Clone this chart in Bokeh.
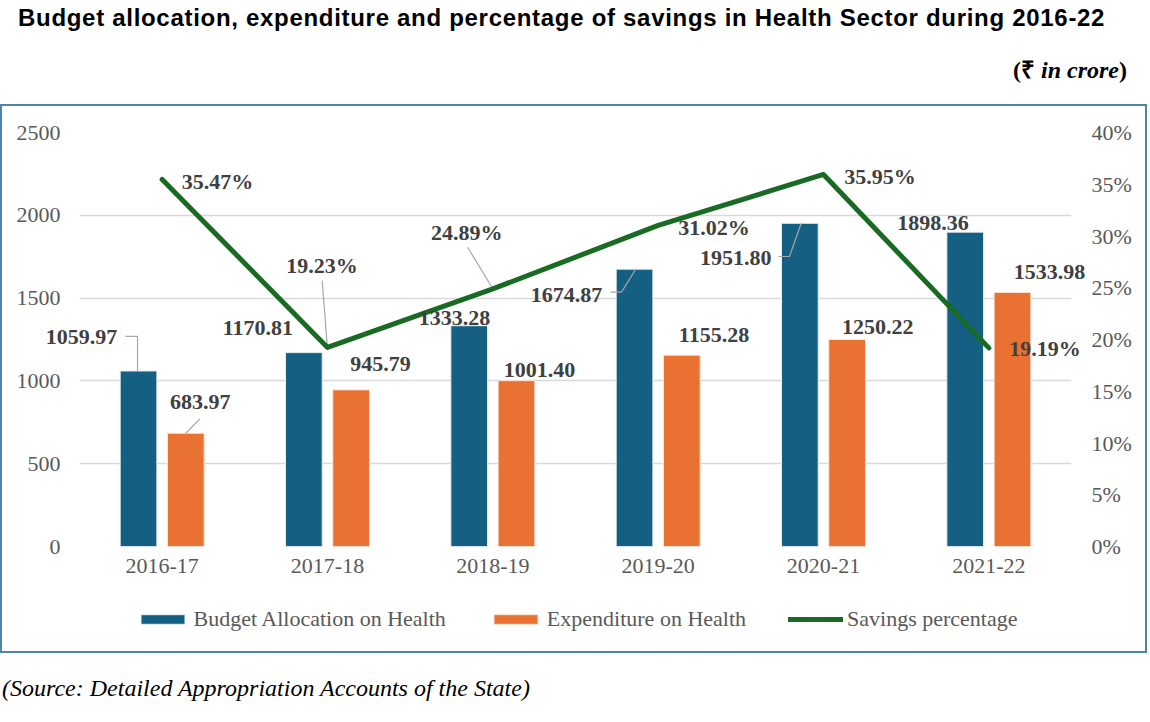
import numpy as np
from bokeh.plotting import figure
from bokeh.layouts import column
from bokeh.models import (ColumnDataSource, FactorRange, Range1d, LinearAxis, FixedTicker,
                          PrintfTickFormatter, Legend, LegendItem, Div)
from bokeh.transform import dodge
from bokeh.core.properties import value
from bokeh.embed import file_html
from bokeh.resources import INLINE

# ---------------- data ----------------
years = ["2016-17", "2017-18", "2018-19", "2019-20", "2020-21", "2021-22"]
budget = [1059.97, 1170.81, 1333.28, 1674.87, 1951.80, 1898.36]
expenditure = [683.97, 945.79, 1001.40, 1155.28, 1250.22, 1533.98]
savings_pct = [35.47, 19.23, 24.89, 31.02, 35.95, 19.19]
left_ticks = [0, 500, 1000, 1500, 2000, 2500]
right_ticks = [0, 5, 10, 15, 20, 25, 30, 35, 40]
series_names = ["Budget Allocation on Health", "Expenditure on Health", "Savings percentage"]
title_text = "Budget allocation, expenditure and percentage of savings in Health Sector during 2016-22"
source_text = "(Source: Detailed Appropriation Accounts of the State)"

# ---------------- layout (label offsets in screen px, +y = down) ----------------
budget_dx = [-57, -46, -14.7, -67.9, -64.1, -32.1]
budget_dy = [-33.8, -25, -7.5, 25.4, 34.7, -8.8]
exp_dx = [14.4, 29.4, 23.1, 32.2, 30.6, 37]
exp_dy = [-31.4, -25.4, -10.2, -19.7, -12.3, -20.3]
pct_dx = [55.3, -5.5, -26.1, 55.8, 56.5, 56.2]
pct_dy = [2.1, -82, -56.7, 1.7, 1.6, 0.9]

BLUE = "#156082"
ORANGE = "#E97132"
GREEN = "#196B24"
SERIF = "Liberation Serif"
GRID = "#D9D9D9"
BORDER = "#4E84A8"
BW = "2px solid " + BORDER

W = 1147
H_MAIN = 490
FL, FR, FT, FB = 77, 78, 26, 50
FW = W - FL - FR
FH = H_MAIN - FT - FB
BAR_W = 0.222
DODGE = 0.143

p = figure(x_range=FactorRange(*years), y_range=Range1d(0, 2500),
           width=W, height=H_MAIN, output_backend="svg", toolbar_location=None,
           min_border_left=FL, min_border_right=FR, min_border_top=FT, min_border_bottom=FB,
           styles={"border-top": BW, "border-left": BW, "border-right": BW})
p.title.text = ""
p.outline_line_color = None
p.background_fill_color = "white"
p.border_fill_color = "white"
p.extra_y_ranges = {"pct": Range1d(0, 40)}

p.xgrid.grid_line_color = None
p.ygrid.grid_line_color = GRID
p.ygrid.grid_line_width = 1.5
p.yaxis.ticker = FixedTicker(ticks=left_ticks)

def style_axis(ax, standoff):
    ax.axis_line_color = None
    ax.major_tick_line_color = None
    ax.minor_tick_line_color = None
    ax.major_tick_out = 0
    ax.major_tick_in = 0
    ax.major_label_text_font = SERIF
    ax.major_label_text_font_size = "22px"
    ax.major_label_text_color = "#595959"
    ax.major_label_standoff = standoff

style_axis(p.yaxis[0], 19)
style_axis(p.xaxis[0], 12)
rax = LinearAxis(y_range_name="pct", ticker=FixedTicker(ticks=right_ticks),
                 formatter=PrintfTickFormatter(format="%d%%"))
style_axis(rax, 20)
p.add_layout(rax, "right")

src = ColumnDataSource(dict(
    year=years, budget=budget, expenditure=expenditure, pct=savings_pct,
    budget_txt=["%.2f" % v for v in budget],
    exp_txt=["%.2f" % v for v in expenditure],
    pct_txt=["%.2f%%" % v for v in savings_pct],
    bdx=budget_dx, bdy=budget_dy, edx=exp_dx, edy=exp_dy, pdx=pct_dx, pdy=pct_dy,
))

bar_blue = dict(fill_color=BLUE, line_color="#E6EEF3", line_width=1)
bar_orange = dict(fill_color=ORANGE, line_color="#FBE3D6", line_width=1)
line_style = dict(line_color=GREEN, line_width=5, line_join="round", line_cap="round")

p.vbar(x=dodge("year", -DODGE, range=p.x_range), top="budget", width=BAR_W,
       source=src, **bar_blue)
p.vbar(x=dodge("year", DODGE, range=p.x_range), top="expenditure", width=BAR_W,
       source=src, **bar_orange)

# leader lines (offsets in px converted to data units)
XU = len(years) / FW
YU = 2500 / FH
PU = 40 / FH

def bar_leader(i, off, pts, vals):
    cx = i + 0.5 + off
    return [cx + dx * XU for dx, dy in pts], [vals[i] - dy * YU for dx, dy in pts]

def pct_leader(i, pts):
    cx = i + 0.5
    return [cx + dx * XU for dx, dy in pts], [savings_pct[i] - dy * PU for dx, dy in pts]

lead = [bar_leader(0, -DODGE, [(-13, -34.5), (-1, -34.5), (-1, 0)], budget),
        bar_leader(0, DODGE, [(0, 0), (14, -14.4)], expenditure),
        bar_leader(3, -DODGE, [(-24, 23), (-13, 23), (1, 0.4)], budget),
        bar_leader(4, -DODGE, [(-21.4, 33.2), (-10.4, 33.2), (1.3, 0.2)], budget)]
r1 = p.multi_line(xs=[a for a, b in lead], ys=[b for a, b in lead],
                  line_color="#A6A6A6", line_width=1.2)
r1.level = "overlay"
plead = [pct_leader(1, [(-5.3, -67), (-0.3, -2)]),
         pct_leader(2, [(-25.3, -41.7), (-0.3, -0.7)])]
p.multi_line(xs=[a for a, b in plead], ys=[b for a, b in plead],
             line_color="#A6A6A6", line_width=1.2, y_range_name="pct")

lbl = dict(text_font=value(SERIF), text_font_size="22px", text_font_style="bold",
           text_color="#404040", text_align="center", text_baseline="middle")
t1 = p.text(x=dodge("year", -DODGE, range=p.x_range), y="budget", text="budget_txt",
            x_offset="bdx", y_offset="bdy", source=src, **lbl)
t2 = p.text(x=dodge("year", DODGE, range=p.x_range), y="expenditure", text="exp_txt",
            x_offset="edx", y_offset="edy", source=src, **lbl)
p.line(x="year", y="pct", source=src, y_range_name="pct", **line_style)
t3 = p.text(x="year", y="pct", text="pct_txt", x_offset="pdx", y_offset="pdy",
            source=src, y_range_name="pct", **lbl)
for r in (t1, t2, t3):
    r.level = "overlay"

# ---------------- legend strip (inside the same bordered box) ----------------
H_LEG = 59
pl = figure(width=W, height=H_LEG, output_backend="svg", toolbar_location=None,
            x_range=Range1d(0, 1), y_range=Range1d(0, 1),
            x_axis_location=None, y_axis_location=None, min_border=0,
            styles={"border-bottom": BW, "border-left": BW, "border-right": BW})
pl.title.text = ""
pl.outline_line_color = None
pl.xgrid.grid_line_color = None
pl.ygrid.grid_line_color = None
swatch = ColumnDataSource(dict(x=np.array([np.nan]), y=np.array([np.nan])))
lb = pl.vbar(x="x", top="y", width=0.1, source=swatch, **bar_blue)
lo = pl.vbar(x="x", top="y", width=0.1, source=swatch, **bar_orange)
ll = pl.line(x="x", y="y", source=swatch, **line_style)
legend = Legend(items=[LegendItem(label=series_names[0], renderers=[lb]),
                       LegendItem(label=series_names[1], renderers=[lo]),
                       LegendItem(label=series_names[2], renderers=[ll])],
                orientation="horizontal", location=(55.5, 21), padding=0, margin=0,
                spacing=42, glyph_width=55, glyph_height=12, label_standoff=4,
                border_line_color=None, background_fill_alpha=0,
                label_text_font=SERIF, label_text_font_size="22px",
                label_text_color="#595959")
pl.add_layout(legend, "center")

header = Div(width=W, height=104, margin=0, text=(
    '<div style="font-family:\'Liberation Sans\',Arial,sans-serif;'
    'font-weight:bold;font-size:24px;letter-spacing:0.7px;line-height:35px;height:35px;'
    'padding-left:18px;white-space:nowrap;color:#000">' + title_text + '</div>'
    '<div style="font-family:\'Liberation Serif\',serif;font-weight:bold;font-size:24px;'
    'line-height:28px;margin-top:21px;padding-left:1013px;color:#000;'
    'white-space:nowrap">(₹ <i>in crore</i>)</div>'))
footer = Div(width=W, height=58, margin=0, text=(
    '<div style="font-family:\'Liberation Serif\',serif;font-style:italic;font-size:24px;'
    'line-height:28px;padding-top:21px;padding-left:2px;color:#000;white-space:nowrap">'
    + source_text + '</div>'))

layout = column(header, p, pl, footer, spacing=0)
open("out.html", "w").write(file_html(layout, INLINE))
